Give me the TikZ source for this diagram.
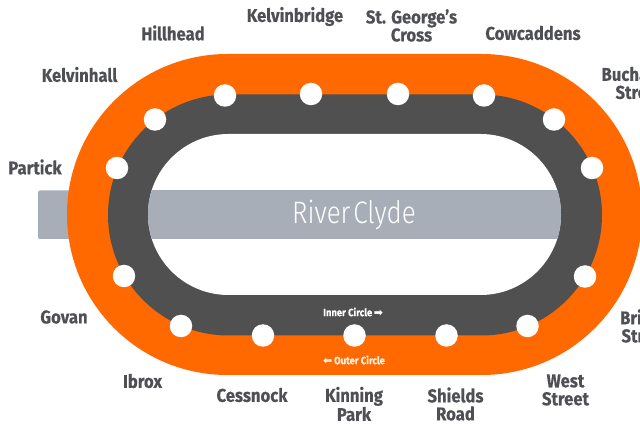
\documentclass[tikz,border=0pt]{standalone}
\usepackage{fontspec}
\setmainfont{Fira Sans}[FakeStretch=0.9,BoldFeatures={FakeBold=0.4}]
\newfontfamily\lightf{Fira Sans Light}[FakeStretch=0.84,WordSpace=0.4]
\newfontfamily\arrowf{DejaVu Sans Bold}
\definecolor{ringorange}{HTML}{FF6900}
\definecolor{ringdark}{HTML}{505050}
\definecolor{river}{HTML}{A8AEB8}
\definecolor{labelgrey}{HTML}{4F5054}
\tikzset{
  x=1pt,y=-1pt,
  station/.style={circle,fill=white,minimum size=22.5pt,inner sep=0pt},
  stationlabel/.style={text=labelgrey,font=\fontsize{18.5}{18}\selectfont\bfseries,align=center,inner sep=0pt},
  ringlabel/.style={font=\fontsize{10.5}{11}\selectfont\bfseries,inner sep=0pt,anchor=west},
}
\begin{document}
\begin{tikzpicture}
\useasboundingbox (0,0) rectangle (640,427);
\clip (0,0) rectangle (640,427);
\fill[river,rounded corners=2pt] (38,190.5) rectangle (100,239);
\fill[ringorange,rounded corners=160.4pt] (67,54) rectangle (642,375);
\fill[ringdark,rounded corners=120.5pt] (108,94.5) rectangle (602,335.5);
\fill[white,rounded corners=80.5pt] (148,134) rectangle (561,295);
\begin{scope}
\clip[rounded corners=80.5pt] (148,134) rectangle (561,295);
\fill[river] (140,190.5) rectangle (570,239);
\end{scope}
\node[text=white,font=\fontsize{31}{32}\selectfont\lightf,inner sep=0pt] (river) at (354,215) {River Clyde};
\node[station] (s1) at (117,168) {};
\node[station] (s2) at (155,119.5) {};
\node[station] (s3) at (225,95.5) {};
\node[station] (s4) at (311,94) {};
\node[station] (s5) at (398,94) {};
\node[station] (s6) at (484,95.5) {};
\node[station] (s7) at (554,119.5) {};
\node[station] (s8) at (592,168) {};
\node[station] (s9) at (585,276.5) {};
\node[station] (s10) at (527.5,326) {};
\node[station] (s11) at (446.5,335.5) {};
\node[station] (s12) at (354.5,335.5) {};
\node[station] (s13) at (263,335.5) {};
\node[station] (s14) at (181,326) {};
\node[station] (s15) at (124,276) {};
\node[stationlabel] (l1) at (35,167) {Partick};
\node[stationlabel] (l2) at (79.5,74.5) {Kelvinhall};
\node[stationlabel] (l3) at (173,33) {Hillhead};
\node[stationlabel] (l4) at (295,16.5) {Kelvinbridge};
\node[stationlabel] (l5) at (411.5,25.5) {St. George's\\Cross};
\node[stationlabel] (l6) at (533,33) {Cowcaddens};
\node[stationlabel] (l7) at (639,83) {Buchanan\\Street};
\node[stationlabel] (l9) at (645,326) {Bridge\\Street};
\node[stationlabel] (l10) at (565.5,390) {West\\Street};
\node[stationlabel] (l11) at (455.5,404) {Shields\\Road};
\node[stationlabel] (l12) at (354,404) {Kinning\\Park};
\node[stationlabel] (l13) at (252,395) {Cessnock};
\node[stationlabel] (l14) at (142.5,381) {Ibrox};
\node[stationlabel] (l15) at (64,317) {Govan};
\node[ringlabel,text=white] (inner) at (323,312) {Inner Circle\,{\arrowf\fontsize{11}{11}\selectfont ➡}};
\node[ringlabel,text=white!90!ringorange] (outer) at (323,360) {{\arrowf\fontsize{11}{11}\selectfont ⬅}\,Outer Circle};
\end{tikzpicture}
\end{document}
